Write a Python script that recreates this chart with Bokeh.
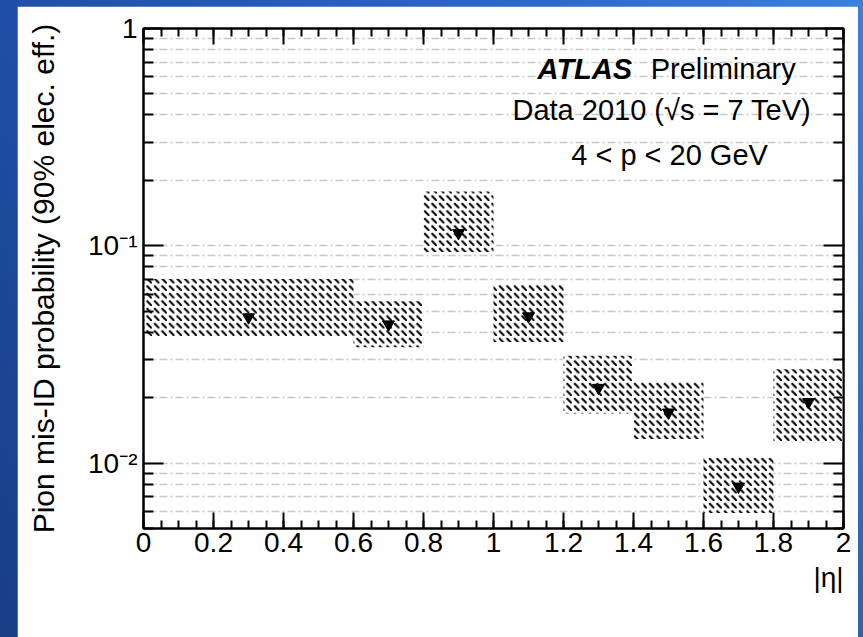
import numpy as np
from bokeh.plotting import figure
from bokeh.models import (FixedTicker, LinearAxis, LogAxis, Label, Title,
                          ColumnDataSource, CustomJSTickFormatter, Range1d)
from bokeh.layouts import column
from bokeh.embed import file_html
from bokeh.resources import INLINE

# ---- data ----
bin_lo = [0.0, 0.6, 0.8, 1.0, 1.2, 1.4, 1.6, 1.8]
bin_hi = [0.6, 0.8, 1.0, 1.2, 1.4, 1.6, 1.8, 2.0]
misid = [0.0469, 0.0435, 0.1145, 0.0474, 0.0222, 0.0171, 0.0078, 0.0191]
band_hi = [0.0703, 0.0556, 0.178, 0.0667, 0.0312, 0.0238, 0.0106, 0.0270]
band_lo = [0.0384, 0.0341, 0.0937, 0.0361, 0.0169, 0.0129, 0.0059, 0.0124]

x_ticks = [0.0, 0.2, 0.4, 0.6, 0.8, 1.0, 1.2, 1.4, 1.6, 1.8, 2.0]
x_tick_labels = ["0", "0.2", "0.4", "0.6", "0.8", "1", "1.2", "1.4", "1.6", "1.8", "2"]
y_ticks = [0.01, 0.1, 1.0]
y_tick_labels = ["10\u207b\u00b2", "10\u207b\u00b9", "1"]

y_title = "Pion mis-ID probability (90% elec. eff.)"
x_title = "|\u03b7|"
atlas_text = "ATLAS"
prelim_text = "Preliminary"
line2_text = "Data 2010 (\u221as = 7 TeV)"
line3_text = "4 < p < 20 GeV"

FONT = "Liberation Sans"

x_minor = [round(v, 3) for v in np.arange(0, 2.0001, 0.05)]
y_minor = []
for e in (-3, -2, -1):
    for m in range(2, 10):
        y_minor.append(round(m * 10.0 ** e, 6))

centers = [(a + b) / 2 for a, b in zip(bin_lo, bin_hi)]
src = ColumnDataSource(dict(lo=bin_lo, hi=bin_hi, c=centers, v=misid,
                            top=band_hi, bot=band_lo))

p = figure(width=841, height=631, x_range=Range1d(0, 2), y_range=Range1d(0.005, 1),
           y_axis_type="log", output_backend="svg", toolbar_location=None,
           min_border_left=126, min_border_right=15, min_border_top=22,
           min_border_bottom=109, background_fill_color="white",
           border_fill_color="white")
p.margin = (6, 5, 0, 17)

p.outline_line_color = "black"
p.outline_line_width = 2

# grids
p.xgrid.visible = False
p.ygrid.ticker = FixedTicker(ticks=y_ticks, minor_ticks=y_minor)
p.ygrid.grid_line_color = "#c8c8c8"
p.ygrid.grid_line_width = 1.5
p.ygrid.grid_line_dash = "8 3 2 3"
p.ygrid.minor_grid_line_color = "#c8c8c8"
p.ygrid.minor_grid_line_width = 1.5
p.ygrid.minor_grid_line_dash = "8 3 2 3"

# bands
p.quad(left="lo", right="hi", bottom="bot", top="top", source=src,
       fill_color="white", line_color=None, hatch_pattern="`",
       hatch_color="black", hatch_scale=7.5, hatch_weight=2.1)
p.scatter(x="c", y="v", source=src, marker="inverted_triangle", size=12,
          color="black")

def style_axis(ax, tin, tmin):
    ax.axis_line_color = "black"
    ax.axis_line_width = 2
    ax.major_tick_line_color = "black"
    ax.minor_tick_line_color = "black"
    ax.major_tick_line_width = 2
    ax.minor_tick_line_width = 2
    ax.major_tick_in = tin
    ax.major_tick_out = 0
    ax.minor_tick_in = tmin
    ax.minor_tick_out = 0
    ax.major_label_text_font = FONT
    ax.major_label_text_font_size = "28px"
    ax.major_label_text_color = "black"

xax = p.xaxis[0]
xax.ticker = FixedTicker(ticks=x_ticks, minor_ticks=x_minor)
xax.major_label_overrides = dict(zip(x_ticks, x_tick_labels))
style_axis(xax, 16, 8)
xax.major_label_standoff = 4

yax = p.yaxis[0]
yax.ticker = FixedTicker(ticks=y_ticks, minor_ticks=y_minor)
yax.major_label_overrides = dict(zip(y_ticks, y_tick_labels))
style_axis(yax, 20, 10)
yax.major_label_standoff = 6
yax.axis_label = y_title
yax.axis_label_text_font = FONT
yax.axis_label_text_font_size = "30px"
yax.axis_label_text_font_style = "normal"
yax.axis_label_text_color = "black"
yax.axis_label_standoff = 25

blank = CustomJSTickFormatter(code="return ''")
top_ax = LinearAxis(ticker=FixedTicker(ticks=x_ticks, minor_ticks=x_minor),
                    formatter=blank)
style_axis(top_ax, 16, 8)
top_ax.major_label_standoff = 0
p.add_layout(top_ax, "above")

right_ax = LogAxis(ticker=FixedTicker(ticks=y_ticks, minor_ticks=y_minor),
                   formatter=blank)
style_axis(right_ax, 20, 10)
right_ax.major_label_standoff = 0
p.add_layout(right_ax, "right")

# x-axis title, right-aligned below the axis (ROOT style)
p.add_layout(Title(text=x_title, align="right", text_font=FONT,
                   text_font_size="28px", text_font_style="normal",
                   text_color="black", standoff=11), "below")

# annotations
def lab(x, y, t, align="left", style="normal", size="29px"):
    p.add_layout(Label(x=x, y=y, text=t, text_font=FONT, text_font_size=size,
                       text_font_style=style, text_align=align,
                       text_baseline="alphabetic", text_color="black"))

lab(1.126, 0.653, atlas_text, style="bold italic")
lab(1.449, 0.653, prelim_text)
lab(1.481, 0.4197, line2_text, align="center")
lab(1.503, 0.2607, line3_text, align="center")

layout = column(p, width=863, height=637,
                styles={"background": "linear-gradient(to bottom, rgba(0,0,20,0) 0%, rgba(0,0,20,0.22) 100%), linear-gradient(to right, #1f4fa6 0%, #2a62c6 50%, #3b80dc 100%)"})

open("out.html", "w").write(file_html(layout, INLINE))
